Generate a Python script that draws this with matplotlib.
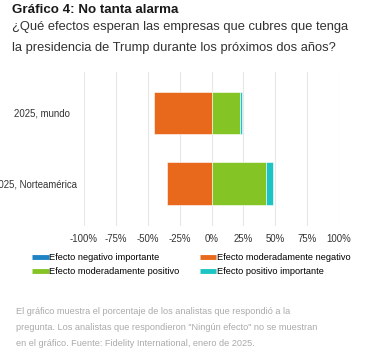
import matplotlib
matplotlib.use("Agg")
import matplotlib.pyplot as plt
from matplotlib.lines import Line2D
from matplotlib.transforms import ScaledTranslation

plt.rcParams['font.family'] = ['Liberation Sans', 'DejaVu Sans']

categorias = ['2025, mundo', '2025, Norteamérica']
series = ['Efecto negativo importante', 'Efecto moderadamente negativo',
          'Efecto moderadamente positivo', 'Efecto positivo importante']
neg_importante = [0, 0]
neg_moderado = [45.5, 35]
pos_moderado = [22, 42.5]
pos_importante = [2, 5.5]
colores = ['#1f84c4', '#e8691c', '#85c425', '#1dc4c4']
ticks = [-100, -75, -50, -25, 0, 25, 50, 75, 100]

fig = plt.figure(figsize=(3.67, 3.6), dpi=100)
ax = fig.add_axes([0.229, 0.372, 0.695, 0.428])

y = list(range(len(categorias)))
neg_mod = [-v for v in neg_moderado]
neg_imp_left = [-(a + b) for a, b in zip(neg_moderado, neg_importante)]
ax.barh(y, neg_importante, left=neg_imp_left, height=0.6, color=colores[0], edgecolor='white', linewidth=0.4, zorder=3)
ax.barh(y, neg_moderado, left=neg_mod, height=0.6, color=colores[1], edgecolor='white', linewidth=0.4, zorder=3)
ax.barh(y, pos_moderado, left=0, height=0.6, color=colores[2], edgecolor='white', linewidth=0.4, zorder=3)
ax.barh(y, pos_importante, left=pos_moderado, height=0.6, color=colores[3], edgecolor='white', linewidth=0.4, zorder=3)

ax.set_xlim(-100, 100)
ax.set_ylim(1.6, -0.58)
ax.set_xticks(ticks)
ax.set_xticklabels([f'{t}%' for t in ticks], fontsize=6.9, color='#333333')
ax.set_yticks(y)
ax.set_yticklabels(categorias, fontsize=6.9, color='#333333')
ax.tick_params(axis='x', length=0, pad=6)
ax.tick_params(axis='y', length=0, pad=10)
# la segunda etiqueta queda algo más a la derecha, como en el original
etq = ax.get_yticklabels()[1]
etq.set_transform(etq.get_transform() + ScaledTranslation(7 / 100, 0, fig.dpi_scale_trans))
ax.grid(axis='x', color='#e8e8e8', linewidth=0.8, zorder=0)
for s in ax.spines.values():
    s.set_visible(False)

handles = [Line2D([], [], color=c, lw=3.5, solid_capstyle='butt') for c in colores]
orden = [0, 2, 1, 3]
fig.legend([handles[i] for i in orden], [series[i] for i in orden],
           ncol=2, loc='upper left', bbox_to_anchor=(0.088, 0.297),
           frameon=False, fontsize=6.7, handlelength=1.75, handletextpad=0.05,
           columnspacing=2.2, labelspacing=0.55, borderaxespad=0, borderpad=0)

fig.text(0.033, 0.989, 'Gráfico 4: No tanta alarma', fontsize=9.6, fontweight='bold',
         color='#1a1a1a', va='top')
fig.text(0.033, 0.942, '¿Qué efectos esperan las empresas que cubres que tenga',
         fontsize=9.3, color='#333333', va='top')
fig.text(0.033, 0.883, 'la presidencia de Trump durante los próximos dos años?',
         fontsize=9.3, color='#333333', va='top')

nota = ['El gráfico muestra el porcentaje de los analistas que respondió a la',
        'pregunta. Los analistas que respondieron "Ningún efecto" no se muestran',
        'en el gráfico. Fuente: Fidelity International, enero de 2025.']
for i, linea in enumerate(nota):
    fig.text(0.044, 1 - (312 + 16 * i) / 360, linea, fontsize=6.6, color='#aaaaaa', va='center')

fig.savefig('out.png', dpi=100)
